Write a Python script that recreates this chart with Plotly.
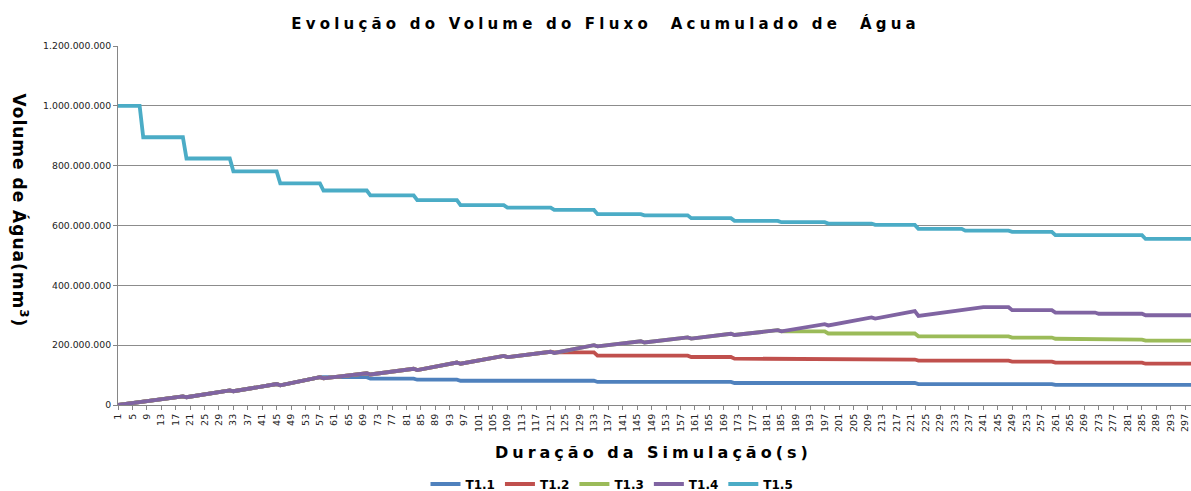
import plotly.graph_objects as go

# ---------------- data (values in millions of mm³) ----------------
series_names = ["T1.1", "T1.2", "T1.3", "T1.4", "T1.5"]
series_colors = ["#4F81BD", "#C0504D", "#9BBB59", "#8064A2", "#4BACC6"]

t11_x = [1, 7, 8, 19, 20, 32, 33, 45, 46, 57, 70, 71, 83, 84, 95, 96, 133, 134, 171, 172, 222, 223, 260, 261, 300]
t11_y = [0, 10, 9, 29, 26, 49, 46, 70, 66, 93, 93, 88, 88, 84.5, 84.5, 81, 81, 77, 77, 73.5, 73.5, 70, 70, 67, 67]

t12_x = [1, 7, 8, 19, 20, 32, 33, 45, 46, 57, 58, 70, 71, 83, 84, 95, 96, 108, 109, 121, 122, 133, 134, 159, 160, 171, 172, 197, 198, 222, 223, 248, 249, 260, 261, 285, 286, 300]
t12_y = [0, 10, 9, 29, 26, 49, 46, 70, 66, 93, 89, 106, 102, 121, 117, 142, 138, 164, 160, 178, 176, 176, 165, 165, 160.5, 160.5, 155, 155, 152, 152, 148.5, 148.5, 145, 145, 141.5, 141.5, 138, 138]

t13_x = [1, 7, 8, 19, 20, 32, 33, 45, 46, 57, 58, 70, 71, 83, 84, 95, 96, 108, 109, 121, 122, 133, 134, 146, 147, 159, 160, 171, 172, 184, 185, 197, 198, 222, 223, 248, 249, 260, 261, 272, 273, 285, 286, 300]
t13_y = [0, 10, 9, 29, 26, 49, 46, 70, 66, 93, 89, 106, 102, 121, 117, 142, 138, 164, 160, 178, 174, 200, 196, 213, 209, 226, 222, 238, 234, 250, 246, 246, 239, 239, 229.5, 229.5, 225.5, 225.5, 221.5, 221.5, 218.5, 218.5, 215, 215]

t14_x = [1, 7, 8, 19, 20, 32, 33, 45, 46, 57, 58, 70, 71, 83, 84, 95, 96, 108, 109, 121, 122, 133, 134, 146, 147, 159, 160, 171, 172, 184, 185, 197, 198, 210, 211, 222, 223, 241, 248, 249, 260, 261, 272, 273, 285, 286, 300]
t14_y = [0, 10, 9, 29, 26, 49, 46, 70, 66, 93, 89, 106, 102, 121, 117, 142, 138, 164, 160, 178, 174, 200, 196, 213, 209, 226, 222, 238, 234, 250, 246, 270, 266, 293, 289, 314, 298, 327, 327, 317, 317, 309, 309, 305, 305, 300, 300]

t15_x = [1, 7, 8, 19, 20, 32, 33, 45, 46, 57, 58, 70, 71, 83, 84, 95, 96, 108, 109, 121, 122, 133, 134, 146, 147, 159, 160, 171, 172, 184, 185, 197, 198, 210, 211, 222, 223, 235, 236, 248, 249, 260, 261, 285, 286, 300]
t15_y = [1000, 1000, 895, 895, 824, 824, 781, 781, 741, 741, 717, 717, 701, 701, 684.5, 684.5, 668, 668, 660, 660, 652, 652, 638, 638, 634, 634, 624.5, 624.5, 615.5, 615.5, 611, 611, 606.5, 606.5, 602, 602, 589, 589, 583, 583, 579, 579, 567.5, 567.5, 555, 555]

all_x = [t11_x, t12_x, t13_x, t14_x, t15_x]
all_y = [t11_y, t12_y, t13_y, t14_y, t15_y]

y_title = "Volume de Água(mm<sup>3</sup>)"
x_title = "Duração da Simulação(s)"
main_title = "Evolução do Volume do Fluxo  Acumulado de  Água"

# ---------------- figure ----------------
fig = go.Figure()
for name, color, xs, ys in zip(series_names, series_colors, all_x, all_y):
    fig.add_trace(go.Scatter(
        x=xs, y=[v * 1e6 for v in ys], mode="lines", name=name,
        line=dict(color=color, width=3.8),
    ))

W, H = 1191, 491
L, R, T, B = 118, 0, 46, 86
pw, ph = W - L - R, H - T - B

def px(x):
    return (x - L) / pw

def py(y):
    return (H - B - y) / ph

fig.update_layout(
    width=W, height=H,
    margin=dict(l=L, r=R, t=T, b=B, autoexpand=False),
    paper_bgcolor="white", plot_bgcolor="white",
    separators=",.",
    font=dict(family="DejaVu Sans", color="#000000"),
    showlegend=True,
    legend=dict(orientation="h", x=px(612), y=py(484), xanchor="center", yanchor="middle",
                font=dict(family="DejaVu Sans", size=12, color="#000000", weight="bold"),
                itemwidth=30, tracegroupgap=0, bgcolor="rgba(0,0,0,0)"),
    xaxis=dict(range=[1, 298.6], tick0=1, dtick=4, showgrid=False, zeroline=False,
               automargin=False,
               showline=True, linecolor="#868686", linewidth=1,
               ticks="outside", ticklen=4, tickcolor="#868686", tickangle=-90,
               tickfont=dict(family="DejaVu Sans", size=9.5, color="#222222")),
    yaxis=dict(range=[0, 1.2e9], dtick=2e8, tickformat=",.0f", showgrid=True,
               automargin=False,
               gridcolor="#8c8c8c", gridwidth=1, zeroline=False,
               showline=True, linecolor="#868686", linewidth=1,
               ticks="outside", ticklen=4, tickcolor="#868686",
               tickfont=dict(family="DejaVu Sans", size=9.3, color="#222222")),
    annotations=[
        dict(text=main_title, x=px(605), y=py(23), xref="paper", yref="paper",
             showarrow=False, xanchor="center", yanchor="middle",
             font=dict(family="DejaVu Sans", size=15, color="#000000", weight="bold")),
        dict(text=y_title, x=px(20), y=py(210), xref="paper", yref="paper",
             showarrow=False, xanchor="center", yanchor="middle", textangle=90,
             font=dict(family="DejaVu Sans", size=17, color="#000000", weight="bold")),
        dict(text=x_title, x=px(653), y=py(452), xref="paper", yref="paper",
             showarrow=False, xanchor="center", yanchor="middle",
             font=dict(family="DejaVu Sans", size=16, color="#000000", weight="bold")),
    ],
)

post = """
document.body.style.margin = '0';
document.body.style.overflow = 'hidden';
var gd = document.getElementById('{plot_id}');
function spaceOut(){
  var t = gd.querySelectorAll('.annotation-text');
  var sp = ['4.2px','1px','4px'];
  t.forEach(function(e,i){ e.style.letterSpacing = sp[i] || '3px'; });
}
spaceOut();
gd.on('plotly_afterplot', spaceOut);
"""
fig.write_html("out.html", post_script=post, config={"displayModeBar": False})
